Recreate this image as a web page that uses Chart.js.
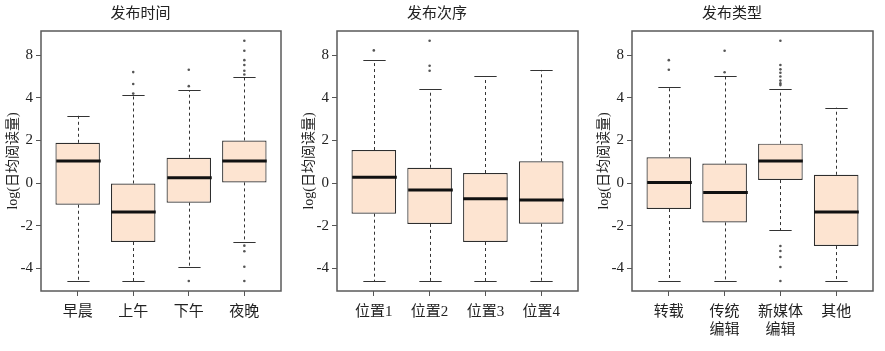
<!DOCTYPE html>
<html>
<head>
<meta charset="utf-8">
<script src="https://cdn.jsdelivr.net/npm/chart.js@4.4.1/dist/chart.umd.min.js"></script>
<style>
  body { margin: 0; background: #fff; width: 885px; height: 351px; position: relative; overflow: hidden; }
  canvas { position: absolute; top: 0; }
</style>
</head>
<body>
<canvas id="c1" width="295" height="351" style="left:0px"></canvas>
<canvas id="c2" width="295" height="351" style="left:296px"></canvas>
<canvas id="c3" width="294" height="351" style="left:591px"></canvas>
<script>
// y axis (the original labels the top tick "8")
const yTickValues = [-4, -2, 0, 2, 4, 6];
const yTickLabels = ['-4', '-2', '0', '2', '4', '8'];
const yMin = -5.07, yMax = 7.14;

// each box: [lower whisker, Q1, median, Q3, upper whisker]
const timeLabels = ['早晨', '上午', '下午', '夜晚'];
const timeBoxes = [
  [-4.6, -1.02, 1.03, 1.89, 3.16],
  [-4.6, -2.77, -1.36, -0.02, 4.15],
  [-3.94, -0.92, 0.25, 1.19, 4.35],
  [-2.78, 0.03, 1.03, 2.0, 4.96]
];
const timeOutliers = [
  [],
  [4.2, 4.65, 5.21],
  [-4.6, 4.55, 5.32],
  [-4.6, -3.93, -3.2, -2.94, 5.1, 5.27, 5.54, 5.77, 6.21, 6.68]
];

const orderLabels = ['位置1', '位置2', '位置3', '位置4'];
const orderBoxes = [
  [-4.6, -1.44, 0.27, 1.55, 5.77],
  [-4.6, -1.92, -0.33, 0.72, 4.4],
  [-4.6, -2.77, -0.74, 0.47, 5.02],
  [-4.6, -1.91, -0.8, 1.02, 5.31]
];
const orderOutliers = [[6.23], [5.27, 5.51, 6.68], [], []];

const typeLabels = ['转载', ['传统', '编辑'], ['新媒体', '编辑'], '其他'];
const typeBoxes = [
  [-4.6, -1.22, 0.03, 1.21, 4.52],
  [-4.6, -1.85, -0.44, 0.92, 5.05],
  [-2.22, 0.14, 1.03, 1.85, 4.4],
  [-4.6, -2.96, -1.36, 0.39, 3.54]
];
const typeOutliers = [
  [5.32, 5.77],
  [5.2, 6.21],
  [-4.6, -3.94, -3.47, -3.19, -2.96, 4.6, 4.68, 4.81, 5.0, 5.18, 5.34, 5.54, 6.68],
  []
];

const FONT = '"Liberation Serif", "Noto Sans CJK SC", serif';

// whiskers, caps, medians and the frame round the plot
const boxPlugin = {
  id: 'boxWhisk',
  afterDatasetsDraw(chart, args, opts) {
    const { ctx, chartArea } = chart;
    const xs = chart.scales.x, ys = chart.scales.y;
    const boxes = opts.boxes || [];
    ctx.save();
    boxes.forEach((b, i) => {
      const x = Math.round(xs.getPixelForValue(i + 1)) + 0.5;
      const capHalf = (xs.getPixelForValue(i + 1.2) - xs.getPixelForValue(i + 1));
      const boxHalf = (xs.getPixelForValue(i + 1.4) - xs.getPixelForValue(i + 1));
      // dashed whiskers
      ctx.strokeStyle = '#333';
      ctx.lineWidth = 1;
      ctx.setLineDash([3, 3]);
      ctx.beginPath();
      ctx.moveTo(x, ys.getPixelForValue(b[3]));
      ctx.lineTo(x, ys.getPixelForValue(b[4]));
      ctx.moveTo(x, ys.getPixelForValue(b[1]));
      ctx.lineTo(x, ys.getPixelForValue(b[0]));
      ctx.stroke();
      ctx.setLineDash([]);
      // caps
      ctx.strokeStyle = '#333';
      ctx.beginPath();
      [b[0], b[4]].forEach(v => {
        const y = Math.round(ys.getPixelForValue(v)) + 0.5;
        ctx.moveTo(x - capHalf, y);
        ctx.lineTo(x + capHalf, y);
      });
      ctx.stroke();
      // median
      ctx.strokeStyle = '#111';
      ctx.lineWidth = 3;
      ctx.beginPath();
      const ym = ys.getPixelForValue(b[2]);
      ctx.moveTo(x - boxHalf, ym);
      ctx.lineTo(x + boxHalf, ym);
      ctx.stroke();
    });
    ctx.strokeStyle = '#5a5a5a';
    ctx.lineWidth = 1.5;
    ctx.strokeRect(chartArea.left, chartArea.top, chartArea.right - chartArea.left, chartArea.bottom - chartArea.top);
    ctx.restore();
  }
};

function makePanel(id, title, labels, boxes, outliers, padRight) {
  const pts = [];
  outliers.forEach((arr, i) => arr.forEach(v => pts.push({ x: i + 1, y: v })));
  return new Chart(document.getElementById(id).getContext('2d'), {
    type: 'bar',
    data: {
      datasets: [
        {
          data: boxes.map((b, i) => ({ x: i + 1, y: [b[1], b[3]] })),
          backgroundColor: '#fde4d1',
          borderColor: '#2e2e2e',
          borderWidth: 1.2,
          borderSkipped: false,
          barPercentage: 0.8,
          categoryPercentage: 1
        },
        {
          type: 'scatter',
          data: pts,
          pointRadius: 1.3,
          pointBackgroundColor: '#555',
          pointBorderWidth: 0
        }
      ]
    },
    options: {
      responsive: false,
      animation: false,
      devicePixelRatio: 1,
      events: [],
      layout: { padding: { right: padRight, left: 0, top: 0, bottom: 0 } },
      plugins: {
        legend: { display: false },
        tooltip: { enabled: false },
        title: {
          display: true,
          text: title,
          color: '#222',
          font: { family: FONT, size: 15, weight: 'normal' },
          padding: { top: 5, bottom: 8 }
        },
        boxWhisk: { boxes: boxes }
      },
      scales: {
        x: {
          type: 'linear',
          min: 0.34,
          max: 4.66,
          offset: false,
          afterBuildTicks: s => { s.ticks = [1, 2, 3, 4].map(v => ({ value: v })); },
          afterFit: s => { s.height = 60; },
          ticks: {
            callback: v => labels[v - 1],
            color: '#222',
            font: { family: FONT, size: 15 },
            padding: 7,
            maxRotation: 0,
            autoSkip: false
          },
          grid: { offset: false, drawOnChartArea: false, drawTicks: true, tickLength: 5, color: '#555' },
          border: { display: false }
        },
        y: {
          type: 'linear',
          min: yMin,
          max: yMax,
          afterBuildTicks: s => { s.ticks = yTickValues.map(v => ({ value: v })); },
          afterFit: s => { s.width = 41; },
          ticks: {
            callback: v => yTickLabels[yTickValues.indexOf(v)],
            color: '#222',
            font: { family: FONT, size: 15 },
            padding: 3
          },
          grid: { drawOnChartArea: false, drawTicks: true, tickLength: 5, color: '#555' },
          border: { display: false },
          title: {
            display: true,
            text: 'log(日均阅读量)',
            color: '#222',
            font: { family: FONT, size: 14 },
            padding: { top: 5, bottom: 0 }
          }
        }
      }
    },
    plugins: [boxPlugin]
  });
}

makePanel('c1', '发布时间', timeLabels, timeBoxes, timeOutliers, 14);
makePanel('c2', '发布次序', orderLabels, orderBoxes, orderOutliers, 13);
makePanel('c3', '发布类型', typeLabels, typeBoxes, typeOutliers, 12);
</script>
</body>
</html>
